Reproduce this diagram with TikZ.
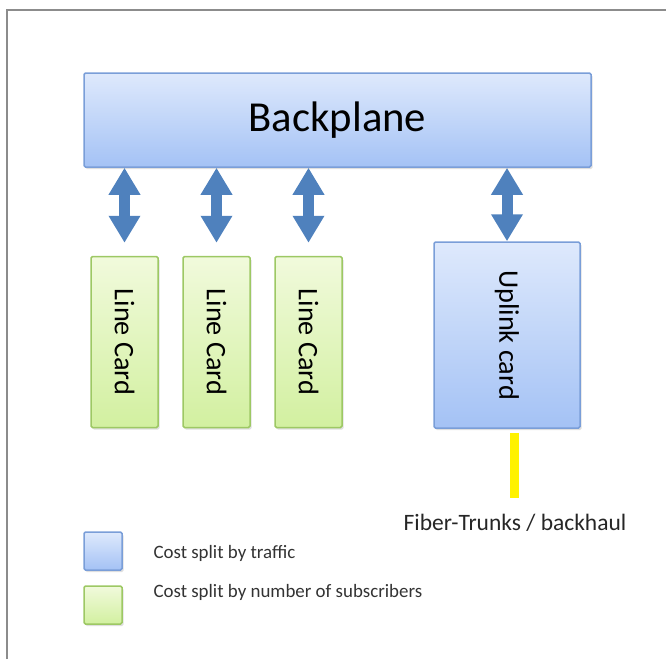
\documentclass[tikz,border=0pt]{standalone}
\usepackage{fontspec}
\setmainfont{Carlito}
\usetikzlibrary{arrows.meta,shadows,positioning}

\definecolor{bluetop}{HTML}{DEE9FC}
\definecolor{bluebot}{HTML}{A4C2F5}
\definecolor{blueline}{HTML}{7A9ED8}
\definecolor{greentop}{HTML}{F1FADC}
\definecolor{greenbot}{HTML}{D2F0A0}
\definecolor{greenline}{HTML}{9DC864}
\definecolor{arrowblue}{HTML}{4F81BD}
\definecolor{framegray}{HTML}{8C8C8C}

\tikzset{
  cardshadow/.style={drop shadow={shadow xshift=1.5pt,shadow yshift=-2pt,opacity=0.25}},
  bluebox/.style={draw=blueline, line width=1.5pt, top color=bluetop, bottom color=bluebot,
    rounded corners=1.5pt, inner sep=0pt, cardshadow},
  greenbox/.style={draw=greenline, line width=1.5pt, top color=greentop, bottom color=greenbot,
    rounded corners=1.5pt, inner sep=0pt, cardshadow},
  cardtext/.style={rotate=-90, font=\fontsize{28.3}{31}\selectfont},
  bus/.style={arrowblue, line width=11pt,
    {Triangle[width=30pt,length=27pt]}-{Triangle[width=30pt,length=27pt]}},
  trunk/.style={yellow, line width=9pt},
  legendtext/.style={anchor=west, font=\fontsize{18.9}{21}\selectfont, text=black!80}
}

\begin{document}
\begin{tikzpicture}[x=1pt,y=-1pt]
\useasboundingbox (0,0) rectangle (666,659);
% Frame
\draw[framegray, line width=2pt] (6.5,659) -- (6.5,9.5) -- (666,9.5);
% Backplane
\node[bluebox, minimum width=507pt, minimum height=94pt] (bp) at (337.5,120) {};
\node[font=\fontsize{42.7}{46}\selectfont] (bptext) at (bp.center) {Backplane};
% Line cards
\node[greenbox, minimum width=67pt, minimum height=171pt] (lc1) at (124.5,342) {};
\node[greenbox, minimum width=67pt, minimum height=171pt] (lc2) at (216.5,342) {};
\node[greenbox, minimum width=67pt, minimum height=171pt] (lc3) at (308.5,342) {};
\foreach \c in {lc1,lc2,lc3}
  \node[cardtext] (\c text) at (\c.center) {Line Card};
% Uplink card
\node[bluebox, minimum width=146pt, minimum height=186pt] (uc) at (507,335) {};
\node[cardtext] (uctext) at (uc.center) {Uplink card};
% Arrows to the backplane
\foreach \c in {lc1,lc2,lc3}
  \draw[bus, shorten >=13pt] (bp.south -| \c.north) -- (\c.north);
\draw[bus] (bp.south -| uc.north) -- (uc.north);
% Fiber trunk
\node[font=\fontsize{23.5}{26}\selectfont, text=black!85] (fiber) at (515,523) {Fiber-Trunks / backhaul};
\coordinate (trunkend) at (514.5,498);
\draw[trunk] ([xshift=7.5pt,yshift=-4pt]uc.south) -- (trunkend);
% Legend
\node[bluebox, minimum width=38pt, minimum height=38pt] (legblue) at (103,551) {};
\node[greenbox, minimum width=38pt, minimum height=38pt] (leggreen) at (103,605) {};
\node[legendtext] (legbluetext) at (150,553) {Cost split by traffic};
\node[legendtext] (leggreentext) at (150,592) {Cost split by number of subscribers};
\end{tikzpicture}
\end{document}
